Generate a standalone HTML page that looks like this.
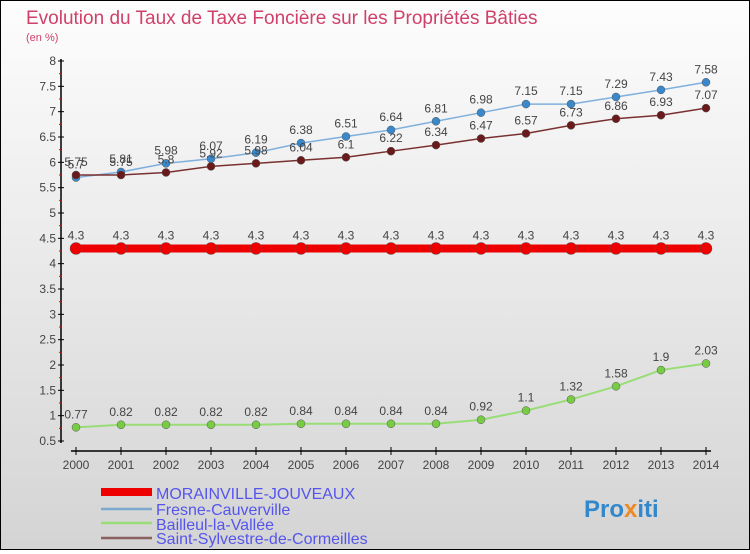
<!DOCTYPE html>
<html><head><meta charset="utf-8"><style>
body{margin:0;width:750px;height:550px;overflow:hidden;font-family:"Liberation Sans",sans-serif}
#c{position:absolute;left:0;top:0;width:748px;height:548px;border:1px solid #000;background:linear-gradient(#fdfdfd,#d4d4d4)}
svg text{font-family:"Liberation Sans",sans-serif}
</style></head><body>
<div id="c">
<svg id="s" width="748" height="548" xmlns="http://www.w3.org/2000/svg">
<text x="25" y="23" font-size="19" fill="#d0406a">Evolution du Taux de Taxe Foncière sur les Propriétés Bâties</text>
<text x="25" y="40" font-size="11" fill="#d0406a">(en %)</text>
<g id="ax"></g><g id="series"></g>
<g font-size="16" fill="#5555ee">
<rect x="100" y="487" width="51" height="8" fill="#e00"/>
<text x="155" y="498">MORAINVILLE-JOUVEAUX</text>
<line x1="100" x2="151" y1="508" y2="508" stroke="#7fa9cc" stroke-width="2.5"/>
<text x="155" y="514">Fresne-Cauverville</text>
<line x1="100" x2="151" y1="522" y2="522" stroke="#99dd77" stroke-width="2.5"/>
<text x="155" y="529">Bailleul-la-Vallée</text>
<line x1="100" x2="151" y1="537" y2="537" stroke="#8a6060" stroke-width="2.5"/>
<text x="155" y="543">Saint-Sylvestre-de-Cormeilles</text>
</g>
<text x="583" y="516" font-size="24" font-weight="bold" fill="#3388cc">Pro<tspan fill="#ee8822">x</tspan>iti</text>
</svg></div>
<script>
const years=[2000,2001,2002,2003,2004,2005,2006,2007,2008,2009,2010,2011,2012,2013,2014];
const morainville=[4.3,4.3,4.3,4.3,4.3,4.3,4.3,4.3,4.3,4.3,4.3,4.3,4.3,4.3,4.3];
const fresne=[5.7,5.81,5.98,6.07,6.19,6.38,6.51,6.64,6.81,6.98,7.15,7.15,7.29,7.43,7.58];
const bailleul=[0.77,0.82,0.82,0.82,0.82,0.84,0.84,0.84,0.84,0.92,1.1,1.32,1.58,1.9,2.03];
const sylvestre=[5.75,5.75,5.8,5.92,5.98,6.04,6.1,6.22,6.34,6.47,6.57,6.73,6.86,6.93,7.07];
const yTicks=[0.5,1,1.5,2,2.5,3,3.5,4,4.5,5,5.5,6,6.5,7,7.5,8];
const NS="http://www.w3.org/2000/svg";
const X=y=>75+(y-2000)*45, Y=v=>60+(8-v)*380/7.5;
function mk(t,a,p){const e=document.createElementNS(NS,t);for(const k in a)e.setAttribute(k,a[k]);p.appendChild(e);return e;}
const ax=document.getElementById('ax');
let l=mk('line',{x1:60,x2:60,y1:58,y2:442,stroke:'#000','stroke-width':1.5},ax);

l=mk('line',{x1:70,x2:710,y1:450,y2:450,stroke:'#000','stroke-width':1.5},ax);

yTicks.forEach((v,i)=>{
 const t=mk('line',{x1:57,x2:63,y1:Y(v),y2:Y(v),stroke:'#000'},ax);
 
 if(i<yTicks.length-1){
 const m=mk('line',{x1:58,x2:61,y1:Y(v+0.25),y2:Y(v+0.25),stroke:'#e00'},ax);
 }
 const tx=mk('text',{x:55,y:Y(v)+4,'font-size':12,fill:'#444','text-anchor':'end'},ax);tx.textContent=v;
 
});
years.forEach(y=>{
 const t=mk('line',{x1:X(y),x2:X(y),y1:446,y2:454,stroke:'#000'},ax);
 
 const tx=mk('text',{x:X(y),y:468,'font-size':12,fill:'#444','text-anchor':'middle'},ax);tx.textContent=y;
 
});
const sg=document.getElementById('series');
function series(vals,name,color,dot,w,r){
 const g=mk('g',{},sg);
 const p=mk('polyline',{points:vals.map((v,i)=>X(years[i])+','+Y(v)).join(' '),fill:'none',stroke:color,'stroke-width':w},g);
 
 vals.forEach((v,i)=>{
  const c=mk('circle',{cx:X(years[i]),cy:Y(v),r:r,fill:dot,stroke:'#555','stroke-width':0.5},g);
  
  const t=mk('text',{x:X(years[i]),y:Y(v)-9,'font-size':12,fill:'#444','text-anchor':'middle'},g);t.textContent=v;
  
 });
}
series(bailleul,'bailleul','#99dd77','#77cc44',2,4);
series(fresne,'fresne','#7fb0dd','#3a88cc',1.5,4);
series(sylvestre,'saint-sylvestre','#7a3030','#6a1a1a',1.5,4);
series(morainville,'morainville','#ee0000','#ee0000',8,6);
</script>
</body></html>
